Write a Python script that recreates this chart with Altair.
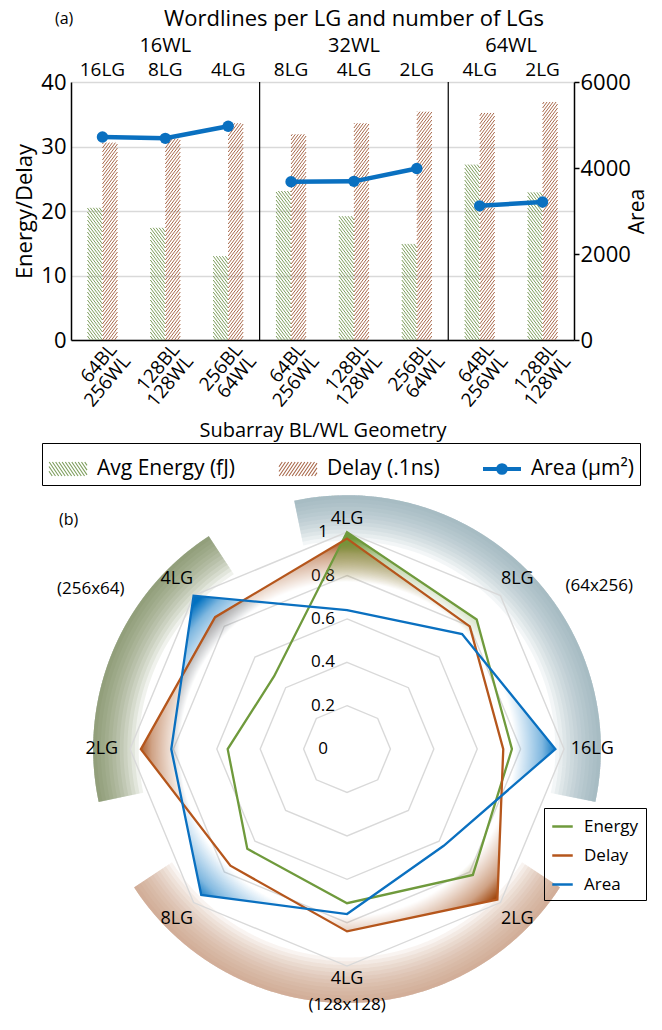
import json
import math
import pandas as pd
import altair as alt

# ---------------- panel (a) values ----------------
lg_labels = ["16LG", "8LG", "4LG", "8LG", "4LG", "2LG", "4LG", "2LG"]
wl_groups = ["16WL", "16WL", "16WL", "32WL", "32WL", "32WL", "64WL", "64WL"]
geometry = ["64BL|256WL", "128BL|128WL", "256BL|64WL",
            "64BL|256WL", "128BL|128WL", "256BL|64WL",
            "64BL|256WL", "128BL|128WL"]
avg_energy = [20.5, 17.4, 13.0, 23.1, 19.2, 14.9, 27.2, 22.9]
delay_01ns = [30.6, 31.2, 33.6, 31.9, 33.6, 35.4, 35.2, 36.9]
area_um2 = [4720, 4690, 4970, 3680, 3690, 3990, 3120, 3210]
legend_names = ["Avg Energy (fJ)", "Delay (.1ns)", "Area (µm²)"]

# ---------------- panel (b) values ----------------
radar_axes = ["4LG", "8LG", "16LG", "2LG", "4LG", "8LG", "2LG", "4LG"]
radar_groups = ["(64x256)"] * 3 + ["(128x128)"] * 3 + ["(256x64)"] * 2
group_names = ["(64x256)", "(128x128)", "(256x64)"]
group_anchor_axis = [1, 4, 7]
radar_series = ["Energy", "Delay", "Area"]
energy_norm = [1.0, 0.845, 0.76, 0.82, 0.71, 0.65, 0.55, 0.475]
delay_norm = [0.97, 0.80, 0.72, 0.98, 0.84, 0.76, 0.95, 0.86]
area_norm = [0.64, 0.75, 0.96, 0.63, 0.76, 0.95, 0.81, 1.0]
ring_levels = [0.2, 0.4, 0.6, 0.8, 1.0]
tick_levels = [0, 0.2, 0.4, 0.6, 0.8, 1.0]

# ---------------- styles ----------------
FONT = "Open Sans"
GREEN_HATCH = "#7d9e5c"
BROWN_HATCH = "#a9694b"
BLUE = "#0a70c0"
LINE_COLORS = ["#6f9a3c", "#b5561c", "#0a70c0"]
FILL_RGB = {"Energy": "111,154,60", "Delay": "160,70,12", "Area": "0,112,192"}
ARC_COLORS = ["#86a2b2", "#c69872", "#6c7b52"]
GRID = "#d9d9d9"

# ======================= panel (a) =======================
N = len(lg_labels)
PW, PH = 503, 258
E_MAX, A_MAX = 40, 6000
px_x = PW / N
px_y = PH / E_MAX
BAR_PX = 15.0
HATCH_GAP_PX = 4.0
HATCH_RISE_PX = 20.0

cat = pd.DataFrame(dict(idx=list(range(N)), lg=lg_labels, wl=wl_groups,
                        geo=geometry, energy=avg_energy, delay=delay_01ns,
                        area=area_um2))


def hatch_rows(values, left_side, down, series):
    rows = []
    bw = BAR_PX / px_x
    d = HATCH_RISE_PX / px_y
    s = HATCH_GAP_PX / px_y
    for i, v in enumerate(values):
        xl = i - bw if left_side else i
        b = -d
        while b < v:
            if down:
                t0 = max(0.0, 1 - (v - b) / d)
                t1 = min(1.0, 1 + b / d)
                ya, yb = b + d * (1 - t0), b + d * (1 - t1)
            else:
                t0 = max(0.0, -b / d)
                t1 = min(1.0, (v - b) / d)
                ya, yb = b + d * t0, b + d * t1
            if t1 > t0:
                rows.append(dict(series=series, x=xl + t0 * bw, x2=xl + t1 * bw,
                                 y=ya, y2=yb))
            b += s
    return rows


hatch = pd.DataFrame(hatch_rows(avg_energy, True, True, "energy")
                     + hatch_rows(delay_01ns, False, False, "delay"))
div_df = pd.DataFrame({"xd": [i + 0.5 for i in range(N - 1)
                              if wl_groups[i] != wl_groups[i + 1]]})

x_scale = alt.Scale(domain=[-0.5, N - 0.5], nice=False, zero=False)
e_scale = alt.Scale(domain=[0, E_MAX], nice=False)
a_scale = alt.Scale(domain=[0, A_MAX], nice=False)

label_expr = "split(" + json.dumps(geometry) + "[datum.value], '|')"
x_axis = alt.Axis(values=list(range(N)), labelExpr=label_expr,
                  title="Subarray BL/WL Geometry", ticks=False, labelOverlap=False,
                  domainColor="black", domainWidth=1.5, labelAngle=-50,
                  labelAlign="right", labelBaseline="middle", labelFontSize=19,
                  labelLineHeight=18, labelPadding=6, labelOffset=10,
                  titleFontSize=20, titlePadding=10, grid=False)
left_axis = alt.Axis(values=[0, 10, 20, 30, 40], title="Energy/Delay", grid=True,
                     gridColor=GRID, gridWidth=1.5, ticks=False, labelOverlap=False,
                     domainColor="black", domainWidth=1.5, labelFontSize=22,
                     titleFontSize=22, labelPadding=5, titlePadding=4)
right_axis = alt.Axis(values=[0, 2000, 4000, 6000], title="Area", orient="right",
                      format="d", grid=False, ticks=True, tickSize=5, tickColor="black",
                      tickWidth=1.5, domainColor="black", domainWidth=1.5,
                      labelOverlap=False, labelFontSize=22, titleFontSize=21,
                      titleAngle=270, labelPadding=1, titlePadding=17)

hatch_e = alt.Chart(hatch).transform_filter("datum.series == 'energy'").mark_rule(
    color=GREEN_HATCH, strokeWidth=1).encode(
    x=alt.X("x:Q", scale=x_scale, axis=x_axis), x2="x2:Q",
    y=alt.Y("y:Q", scale=e_scale, axis=left_axis), y2="y2:Q")
hatch_d = alt.Chart(hatch).transform_filter("datum.series == 'delay'").mark_rule(
    color=BROWN_HATCH, strokeWidth=1).encode(
    x=alt.X("x:Q", scale=x_scale), x2="x2:Q",
    y=alt.Y("y:Q", scale=e_scale), y2="y2:Q")
dividers = alt.Chart(div_df).mark_rule(color="black", strokeWidth=1.2).encode(
    x=alt.X("xd:Q", scale=x_scale))
lg_text = alt.Chart(cat).mark_text(fontSize=19, baseline="middle").encode(
    x=alt.X("idx:Q", scale=x_scale), y=alt.value(-12), text="lg:N")
wl_text = alt.Chart(cat).transform_aggregate(
    xc="mean(idx)", groupby=["wl"]).mark_text(fontSize=20, baseline="middle").encode(
    x=alt.X("xc:Q", scale=x_scale), y=alt.value(-36), text="wl:N")
title_text = alt.Chart(alt.Data(values=[{}])).mark_text(
    text="Wordlines per LG and number of LGs", fontSize=22, baseline="middle").encode(
    x=alt.value(283), y=alt.value(-63))
a_text = alt.Chart(alt.Data(values=[{}])).mark_text(
    text="(a)", fontSize=16, align="left", baseline="middle").encode(
    x=alt.value(-16), y=alt.value(-63))


def clip_seg(xa, ya, xb, yb, lo=-1.0, hi=1.0):
    if xb <= lo or xa >= hi:
        return None
    if xa < lo:
        t = (lo - xa) / (xb - xa)
        ya = ya + t * (yb - ya)
        xa = lo
    if xb > hi:
        t = (hi - xa) / (xb - xa)
        yb = ya + t * (yb - ya)
        xb = hi
    return xa, ya, xb, yb


def hatch_symbol(down, half_h=0.368, gap=0.17, run=0.5):
    parts = []
    c = -1.0 - run
    while c < 1.0:
        if down:
            seg = clip_seg(c, -half_h, c + run, half_h)
        else:
            seg = clip_seg(c, half_h, c + run, -half_h)
        if seg:
            parts.append("M%.3f,%.3fL%.3f,%.3f" % seg)
        c += gap
    return "".join(parts)


def line_dot_symbol():
    parts = ["M-1,%.3fL1,%.3f" % (o, o) for o in (-0.08, -0.04, 0.0, 0.04, 0.08)]
    for r in (0.05, 0.11, 0.17, 0.23, 0.28):
        parts.append("M%.3f,0A%.3f,%.3f 0 1,1 %.3f,0A%.3f,%.3f 0 1,1 %.3f,0"
                     % (r, r, r, -r, r, r, r))
    return "".join(parts)


top_legend = alt.Legend(title=None, orient="none", legendX=-29, legendY=361,
                        direction="horizontal", symbolSize=1444,
                        symbolStrokeWidth=1.1, labelFontSize=21, labelFont=FONT,
                        labelColor="black", labelOffset=9, columnPadding=40,
                        padding=6, strokeColor="black", labelLimit=400)
leg_df = pd.DataFrame({"series": legend_names})
legend_layer = alt.Chart(leg_df).mark_point(
    filled=False, clip=True, size=1444, strokeWidth=1.1, opacity=1).encode(
    x=alt.value(-3000), y=alt.value(-3000),
    color=alt.Color("series:N", scale=alt.Scale(domain=legend_names,
                                                range=[GREEN_HATCH, BROWN_HATCH, BLUE]),
                    legend=top_legend),
    shape=alt.Shape("series:N", scale=alt.Scale(
        domain=legend_names,
        range=[hatch_symbol(True), hatch_symbol(False), line_dot_symbol()]),
        legend=top_legend))

area_line = alt.Chart(cat).mark_line(color=BLUE, strokeWidth=4.5).encode(
    x=alt.X("idx:Q", scale=x_scale),
    y=alt.Y("area:Q", scale=a_scale, axis=right_axis), detail="wl:N")
area_pts = alt.Chart(cat).mark_point(filled=True, size=130, color=BLUE, opacity=1).encode(
    x=alt.X("idx:Q", scale=x_scale),
    y=alt.Y("area:Q", scale=a_scale))

top = alt.layer(
    alt.layer(hatch_e, hatch_d, dividers, lg_text, wl_text, title_text, a_text, legend_layer),
    alt.layer(area_line, area_pts),
).resolve_scale(y="independent").properties(width=PW, height=PH)

# ======================= panel (b) =======================
NA = len(radar_axes)
R_PX = 217.0
RX = [-1.272, 1.25]
RY = [-1.19, 1.30]
RW = (RX[1] - RX[0]) * R_PX
RH = (RY[1] - RY[0]) * R_PX
rxs = alt.Scale(domain=RX, nice=False, zero=False)
rys = alt.Scale(domain=RY, nice=False, zero=False)
ANG = f"2*PI*datum.idx/{NA}"
ARC_IN, ARC_OUT = 0.96, 1.17
ARC_PAD = 0.21
ARC_BANDS = 12
ARC_PTS = 60
ARC_ALPHA = 0.1

axes_df = pd.DataFrame({"idx": list(range(NA)), "axis": radar_axes, "grp": radar_groups})
rings_df = pd.DataFrame({"lvl": ring_levels}).merge(axes_df, how="cross")
series_df = pd.concat([
    pd.DataFrame({"idx": list(range(NA)), "series": s, "r": v})
    for s, v in zip(radar_series, [energy_norm, delay_norm, area_norm])
], ignore_index=True)
span = axes_df.groupby("grp")["idx"].agg(["min", "max"]).reset_index()
span.columns = ["grp", "i0", "i1"]
arc_df = (span.merge(pd.DataFrame({"k": list(range(ARC_BANDS))}), how="cross")
          .merge(pd.DataFrame({"j": list(range(ARC_PTS + 1))}), how="cross"))


def xy(chart, rexpr, angexpr=ANG):
    return chart.transform_calculate(
        px=f"({rexpr})*sin({angexpr})", py=f"({rexpr})*cos({angexpr})")


layers = []
band_w = (ARC_OUT - ARC_IN) / ARC_BANDS
for g, col in zip(group_names, ARC_COLORS):
    layers.append(xy(
        alt.Chart(arc_df).transform_filter(f"datum.grp == '{g}'").transform_calculate(
            a=f"2*PI*datum.i0/{NA} - {ARC_PAD} + (2*PI*(datum.i1-datum.i0)/{NA} + 2*{ARC_PAD})*datum.j/{ARC_PTS}",
            rin=f"{ARC_IN} + {band_w}*datum.k",
            rr=f"(datum.rin + {ARC_OUT})/2",
            sw=f"({ARC_OUT} - datum.rin)*{R_PX}"),
        "datum.rr", "datum.a"
    ).mark_line(strokeCap="butt", strokeJoin="round", clip=True, color=col,
                opacity=ARC_ALPHA).encode(
        x=alt.X("px:Q", scale=rxs, axis=None), y=alt.Y("py:Q", scale=rys, axis=None),
        detail="k:N", order="j:Q",
        strokeWidth=alt.StrokeWidth("sw:Q", scale=None)))

rings = xy(alt.Chart(rings_df), "datum.lvl").mark_line(
    interpolate="linear-closed", color=GRID, strokeWidth=1.4).encode(
    x=alt.X("px:Q", scale=rxs, axis=None), y=alt.Y("py:Q", scale=rys, axis=None),
    detail="lvl:N", order="idx:Q")
layers.append(rings)

ticks_lbl = alt.Chart(pd.DataFrame({"lvl": tick_levels})).transform_calculate(
    z="0").mark_text(dx=-24, fontSize=17, baseline="middle").encode(
    x=alt.X("z:Q", scale=rxs, axis=None), y=alt.Y("lvl:Q", scale=rys, axis=None),
    text=alt.Text("lvl:Q", format="~g"))
layers.append(ticks_lbl)


def radial_fill(series, vals):
    xs = [v * math.sin(2 * math.pi * i / NA) for i, v in enumerate(vals)]
    ys = [v * math.cos(2 * math.pi * i / NA) for i, v in enumerate(vals)]
    S = max(max(xs) - min(xs), max(ys) - min(ys))
    cx = 0.5 - (max(xs) + min(xs)) / 2 / S
    cy = 0.5 + (max(ys) + min(ys)) / 2 / S
    rgb = FILL_RGB[series]
    stops = [alt.GradientStop(color=f"rgba({rgb},0)", offset=0),
             alt.GradientStop(color=f"rgba({rgb},0)", offset=0.77),
             alt.GradientStop(color=f"rgba({rgb},0.5)", offset=0.9),
             alt.GradientStop(color=f"rgba({rgb},1)", offset=0.97)]
    return alt.RadialGradient(gradient="radial", stops=stops, x1=cx, y1=cy, r1=0,
                              x2=cx, y2=cy, r2=1.0 / S)


for s, v in [("Area", area_norm), ("Delay", delay_norm), ("Energy", energy_norm)]:
    layers.append(
        xy(alt.Chart(series_df).transform_filter(f"datum.series == '{s}'"), "datum.r")
        .mark_line(interpolate="linear-closed", fill=radial_fill(s, v), strokeOpacity=0)
        .encode(x=alt.X("px:Q", scale=rxs, axis=None),
                y=alt.Y("py:Q", scale=rys, axis=None), order="idx:Q"))

radar_legend = alt.Legend(title=None, orient="none", legendX=473, legendY=726,
                          symbolType="stroke", symbolSize=420, symbolStrokeWidth=2.5,
                          labelFontSize=17, labelFont=FONT, labelColor="black",
                          rowPadding=9, padding=7, strokeColor="black", labelOffset=10)
lines = xy(alt.Chart(series_df), "datum.r").mark_line(
    interpolate="linear-closed", strokeWidth=2.3).encode(
    x=alt.X("px:Q", scale=rxs, axis=None), y=alt.Y("py:Q", scale=rys, axis=None),
    stroke=alt.Stroke("series:N", scale=alt.Scale(domain=radar_series, range=LINE_COLORS),
                      legend=radar_legend),
    order="idx:Q")
layers.append(lines)

LBL_R = f"(1.06 + 0.07*abs(sin({ANG})))"
axis_lbl = xy(alt.Chart(axes_df), LBL_R).mark_text(
    fontSize=18, baseline="middle").encode(
    x=alt.X("px:Q", scale=rxs, axis=None), y=alt.Y("py:Q", scale=rys, axis=None),
    text="axis:N")
layers.append(axis_lbl)

GROUP_LABEL_SHIFT = [(82, 7), (0, 26), (-86, 10)]
for g, a, (ddx, ddy) in zip(group_names, group_anchor_axis, GROUP_LABEL_SHIFT):
    layers.append(
        xy(alt.Chart(axes_df).transform_filter(f"datum.idx == {a}")
           .transform_calculate(glabel=f"'{g}'"), LBL_R)
        .mark_text(fontSize=17, baseline="middle", dx=ddx, dy=ddy)
        .encode(x=alt.X("px:Q", scale=rxs, axis=None),
                y=alt.Y("py:Q", scale=rys, axis=None), text="glabel:N"))

b_text = alt.Chart(alt.Data(values=[{}])).mark_text(
    text="(b)", fontSize=16, align="left", baseline="middle").encode(
    x=alt.value(-12), y=alt.value(53))
layers.append(b_text)

radar = alt.layer(*layers).properties(width=RW, height=RH)

chart = alt.vconcat(top, radar, spacing=127, bounds="flush").properties(
    padding={"left": 5, "top": 0, "right": 4, "bottom": 0}
).configure_view(stroke=None).configure_axis(
    labelFont=FONT, titleFont=FONT, labelColor="black", titleColor="black",
    titleFontWeight="normal"
).configure_text(font=FONT, color="black").configure_legend(labelFont=FONT)

chart.save("out.html", embed_options={"renderer": "svg", "actions": False})
